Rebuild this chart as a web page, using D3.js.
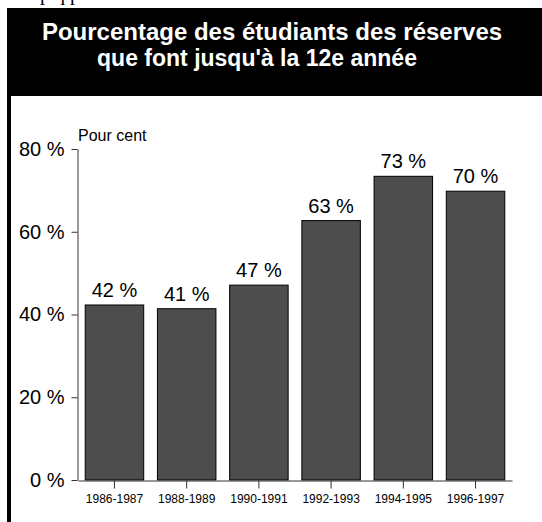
<!DOCTYPE html>
<html>
<head>
<meta charset="utf-8">
<script src="https://cdn.jsdelivr.net/npm/d3@7"></script>
<style>
  html, body { margin: 0; padding: 0; background: #fff; }
  svg { display: block; }
</style>
</head>
<body>
<svg id="chart" width="542" height="522"></svg>
<script>
const titleLines = ["Pourcentage des étudiants des réserves", "que font jusqu'à la 12e année"];
const categories = ["1986-1987", "1988-1989", "1990-1991", "1992-1993", "1994-1995", "1996-1997"];
const values = [42.3, 41.4, 47.1, 62.7, 73.4, 69.8];
const yTicks = [0, 20, 40, 60, 80];
const unitLabel = "Pour cent";
const topFragment = "p q    p";

const font = "'Liberation Sans', Arial, Helvetica, sans-serif";
const svg = d3.select("#chart");

// clipped fragment at the very top
svg.append("text")
  .attr("x", 40).attr("y", 0)
  .attr("font-family", "'Liberation Serif', 'Times New Roman', serif")
  .attr("font-size", 20)
  .attr("fill", "#000")
  .text(topFragment);

// title block
svg.append("rect").attr("x", 7).attr("y", 8).attr("width", 535).attr("height", 88).attr("fill", "#000");
svg.append("rect").attr("x", 7).attr("y", 96).attr("width", 4).attr("height", 426).attr("fill", "#000");

const titleX = [272, 257];
const titleY = [39.5, 66];
const titleSize = [24, 23];
svg.selectAll("text.title").data(titleLines).join("text")
  .attr("class", "title")
  .attr("x", (d, i) => titleX[i]).attr("y", (d, i) => titleY[i])
  .attr("text-anchor", "middle")
  .attr("font-family", font).attr("font-weight", "bold").attr("font-size", (d, i) => titleSize[i])
  .attr("fill", "#fff")
  .text(d => d);

// scales
const x = d3.scaleBand().domain(categories).range([78, 512]).paddingInner(0.19).paddingOuter(0.1);
const y = d3.scaleLinear().domain([0, 80]).range([480, 149]);

// y axis
const yAxis = svg.append("g").attr("transform", "translate(77.5,0)")
  .call(d3.axisLeft(y).tickValues(yTicks).tickSize(6).tickSizeOuter(0).tickPadding(7)
    .tickFormat(d => d + " %"));
yAxis.select(".domain").attr("stroke", "#333");
yAxis.selectAll(".tick line").attr("stroke", "#333");
yAxis.selectAll(".tick text").attr("font-family", font).attr("font-size", 20).attr("fill", "#000");

// bars
svg.selectAll("rect.bar").data(values).join("rect")
  .attr("class", "bar")
  .attr("x", (d, i) => x(categories[i]))
  .attr("y", d => y(d))
  .attr("width", x.bandwidth())
  .attr("height", d => y(0) - y(d))
  .attr("fill", "#4d4d4d")
  .attr("stroke", "#000").attr("stroke-width", 1);

// x axis
const xAxis = svg.append("g").attr("transform", "translate(0,480.5)")
  .call(d3.axisBottom(x).tickSize(8).tickSizeOuter(0).tickPadding(6));
xAxis.select(".domain").attr("stroke", "#333");
xAxis.selectAll(".tick line").attr("stroke", "#333");
xAxis.selectAll(".tick text").attr("font-family", font).attr("font-size", 12).attr("fill", "#000");

// value labels
svg.selectAll("text.val").data(values).join("text")
  .attr("class", "val")
  .attr("x", (d, i) => x(categories[i]) + x.bandwidth() / 2)
  .attr("y", d => y(d) - 8)
  .attr("text-anchor", "middle")
  .attr("font-family", font).attr("font-size", 20).attr("fill", "#000")
  .text(d => Math.round(d) + " %");

// unit label
svg.append("text").attr("x", 78).attr("y", 141)
  .attr("font-family", font).attr("font-size", 16).attr("fill", "#000")
  .text(unitLabel);
</script>
</body>
</html>
